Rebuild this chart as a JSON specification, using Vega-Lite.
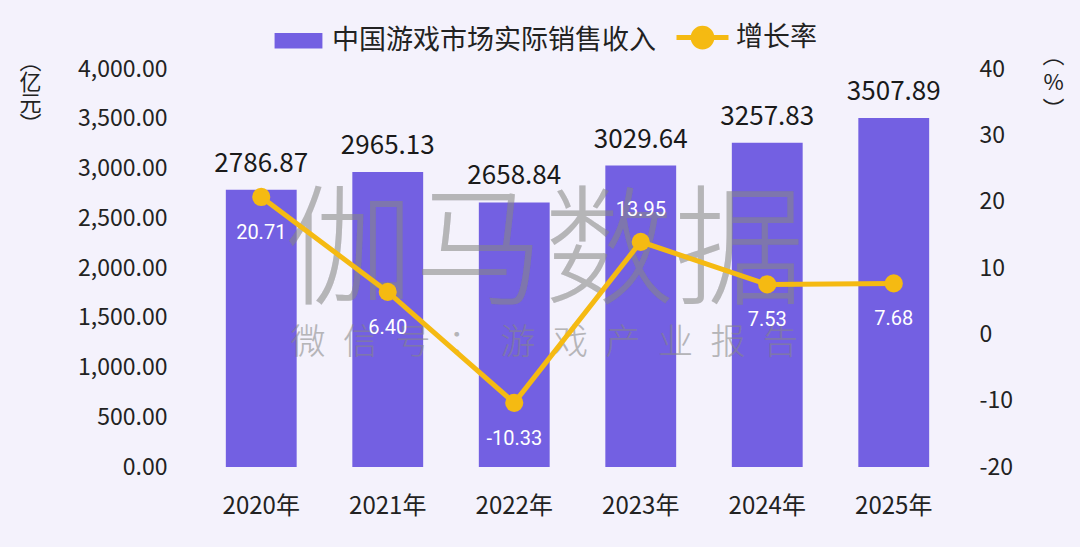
{
  "$schema": "https://vega.github.io/schema/vega-lite/v6.json",
  "width": 759,
  "height": 398,
  "autosize": {"type": "none"},
  "padding": {"left": 198, "top": 69, "right": 123, "bottom": 80},
  "background": "#F4F2FC",
  "config": {
    "view": {"stroke": null},
    "font": "Noto Sans CJK SC",
    "locale": {"number": {"decimal": ".", "thousands": ",", "grouping": [3], "currency": ["", ""], "minus": "-"}},
    "axis": {"grid": false, "domain": false, "ticks": false, "labelColor": "#222222", "titleColor": "#222222"}
  },
  "data": {
    "values": [
      {"year": "2020年", "revenue": 2786.87, "growth": 20.71},
      {"year": "2021年", "revenue": 2965.13, "growth": 6.40},
      {"year": "2022年", "revenue": 2658.84, "growth": -10.33},
      {"year": "2023年", "revenue": 3029.64, "growth": 13.95},
      {"year": "2024年", "revenue": 3257.83, "growth": 7.53},
      {"year": "2025年", "revenue": 3507.89, "growth": 7.68}
    ]
  },
  "encoding": {
    "x": {
      "field": "year",
      "type": "ordinal",
      "scale": {"paddingInner": 0.44, "paddingOuter": 0.22},
      "axis": {"title": null, "labelAngle": 0, "labelFontSize": 24, "labelPadding": 27, "labelBaseline": "top"}
    }
  },
  "layer": [
    {
      "layer": [
        {
          "mark": {"type": "bar", "color": "#7360E2"},
          "encoding": {
            "y": {
              "field": "revenue",
              "type": "quantitative",
              "scale": {"domain": [0, 4000], "nice": false},
              "axis": {
                "values": [0, 500, 1000, 1500, 2000, 2500, 3000, 3500, 4000],
                "format": ",.2f",
                "labelFontSize": 23,
                "labelPadding": 31,
                "title": ["︵", "亿", "元", "︶"],
                "titleAngle": 0,
                "titleFontSize": 22,
                "titleFontWeight": "normal",
                "titleLineHeight": 21,
                "titleAlign": "center",
                "titleBaseline": "top",
                "titleX": -168,
                "titleY": -18
              }
            },
            "color": {
              "datum": "中国游戏市场实际销售收入",
              "type": "nominal",
              "scale": {"domain": ["中国游戏市场实际销售收入", "增长率"], "range": ["#7360E2", "#F5BA12"]},
              "legend": {
                "title": null,
                "orient": "none",
                "direction": "horizontal",
                "legendX": 87,
                "legendY": -45,
                "symbolSize": 2704,
                "labelFontSize": 27,
                "labelLimit": 0,
                "labelColor": "#222222",
                "labelOffset": 20,
                "columnPadding": 10,
                "encode": {
                  "symbols": {
                    "update": {
                      "shape": {"signal": "datum.value === '增长率' ? 'M-1,0H1M-0.36,0A0.36,0.36,0,1,0,0.36,0A0.36,0.36,0,1,0,-0.36,0' : 'M-0.92,-0.3H0.92V0.3H-0.92Z'"},
                      "fill": {"signal": "datum.value === '增长率' ? '#F5BA12' : '#7360E2'"},
                      "stroke": {"value": "#F5BA12"},
                      "strokeWidth": {"signal": "datum.value === '增长率' ? 5 : 0"},
                      "opacity": {"value": 1}
                    }
                  }
                }
              }
            }
          }
        },
        {
          "mark": {"type": "text", "text": "伽马数据", "fontSize": 130, "font": "Noto Sans CJK SC", "fontWeight": 300, "color": "#8a8a8a", "opacity": 0.13, "dx": 30},
          "encoding": {"x": {"datum": "2022年"}, "y": {"datum": 2130}}
        },
        {
          "mark": {"type": "text", "text": "微\u2002信\u2002号\u2002：\u2002游\u2002戏\u2002产\u2002业\u2002报\u2002告", "fontSize": 35, "font": "Noto Sans CJK SC", "fontWeight": 300, "color": "#8a8a8a", "opacity": 0.13, "dx": 30},
          "encoding": {"x": {"datum": "2022年"}, "y": {"datum": 1246}}
        },
        {
          "mark": {"type": "text", "fontSize": 26, "color": "#1a1a1a", "baseline": "bottom", "dy": -13},
          "encoding": {
            "y": {"field": "revenue", "type": "quantitative"},
            "text": {"field": "revenue", "type": "quantitative", "format": ".2f"}
          }
        }
      ]
    },
    {
      "layer": [
        {
          "mark": {"type": "line", "strokeWidth": 5},
          "encoding": {
            "y": {
              "field": "growth",
              "type": "quantitative",
              "scale": {"domain": [-20, 40], "nice": false},
              "axis": {
                "orient": "right",
                "values": [-20, -10, 0, 10, 20, 30, 40],
                "labelFontSize": 23,
                "labelPadding": 22,
                "title": ["︵", "%", "︶"],
                "titleAngle": 0,
                "titleFontSize": 22,
                "titleFontWeight": "normal",
                "titleLineHeight": 27,
                "titleAlign": "center",
                "titleBaseline": "top",
                "titleX": 96,
                "titleY": -24
              }
            },
            "color": {"datum": "增长率", "type": "nominal"}
          }
        },
        {
          "mark": {"type": "point", "filled": true, "size": 330, "opacity": 1},
          "encoding": {
            "y": {"field": "growth", "type": "quantitative"},
            "color": {"datum": "增长率", "type": "nominal"}
          }
        },
        {
          "transform": [{"filter": "datum.year !== '2023年'"}],
          "mark": {"type": "text", "fontSize": 20, "font": "Roboto", "color": "#ffffff", "dy": 36},
          "encoding": {
            "y": {"field": "growth", "type": "quantitative"},
            "text": {"field": "growth", "type": "quantitative", "format": ".2f"}
          }
        },
        {
          "transform": [{"filter": "datum.year === '2023年'"}],
          "mark": {"type": "text", "fontSize": 20, "font": "Roboto", "color": "#ffffff", "dy": -32},
          "encoding": {
            "y": {"field": "growth", "type": "quantitative"},
            "text": {"field": "growth", "type": "quantitative", "format": ".2f"}
          }
        }
      ]
    }
  ],
  "resolve": {"scale": {"y": "independent"}}
}
